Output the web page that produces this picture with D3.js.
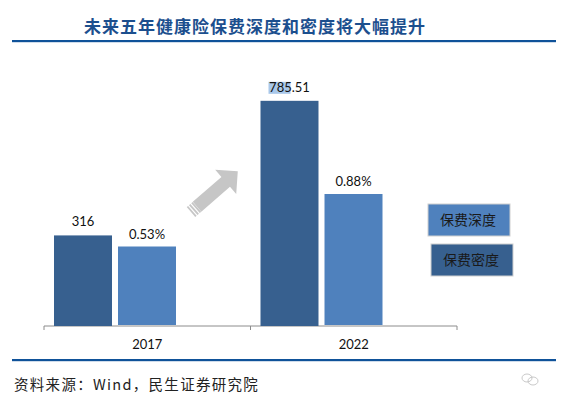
<!DOCTYPE html>
<meta charset="utf-8">
<script src="https://d3js.org/d3.v7.min.js"></script>
<style>
	body { margin: 0; background: #fff; }
	svg { display: block; }
	.cjk { font-family: "Noto Sans CJK SC", sans-serif; }
	.num { font-family: Lato, "Liberation Sans", sans-serif; }
</style>
<body>
	<div id="chart"></div>
</body>
<script>
	// chart data
	const years = ["2017", "2022"];
	const density = [316, 785.51];   // 保费密度 (元/人)
	const depth = [0.53, 0.88];      // 保费深度 (%)
	const legendNames = ["保费深度", "保费密度"];
	const title = "未来五年健康险保费深度和密度将大幅提升";
	const source = "资料来源：Wind，民生证券研究院";

	const width = 562, height = 396;
	const darkBlue = "#37608f", lightBlue = "#4f81bd";

	const svg = d3.select("#chart").append("svg")
		.attr("width", width)
		.attr("height", height);

	// title + rules
	svg.append("text")
		.attr("class", "cjk")
		.attr("x", 255).attr("y", 33)
		.attr("text-anchor", "middle")
		.attr("font-size", 17).attr("font-weight", "bold")
		.attr("letter-spacing", 1)
		.attr("fill", "#1c4f8e")
		.text(title);

	svg.append("rect").attr("x", 12).attr("y", 40).attr("width", 544).attr("height", 2.2).attr("fill", "#0f5299");
	svg.append("rect").attr("x", 12).attr("y", 359).attr("width", 544).attr("height", 2.2).attr("fill", "#0f5299");

	// scales
	const x = d3.scaleBand().domain(years).range([44, 457]);
	const xSub = d3.scaleBand().domain(["density", "depth"]).range([10, 132]).paddingInner(0.094);
	const yDensity = d3.scaleLinear().domain([0, 900]).range([326, 68]);
	const yDepth = d3.scaleLinear().domain([0, 1.6]).range([326, 86]);

	// axis
	const axis = svg.append("g")
		.attr("transform", "translate(0,326)")
		.call(d3.axisBottom(x).tickSize(0).tickFormat(""));
	axis.select(".domain").attr("stroke", "#8c8c8c").attr("d", "M44,4V0H457V4");
	axis.selectAll(".tick").remove();
	svg.append("g").selectAll("line")
		.data(years.slice(0, -1))
		.join("line")
		.attr("x1", d => x(d) + x.bandwidth()).attr("x2", d => x(d) + x.bandwidth())
		.attr("y1", 326).attr("y2", 330)
		.attr("stroke", "#8c8c8c");

	svg.append("g").selectAll("text")
		.data(years)
		.join("text")
		.attr("class", "num")
		.attr("x", d => x(d) + x.bandwidth() / 2)
		.attr("y", 349)
		.attr("text-anchor", "middle")
		.attr("font-size", 13)
		.attr("fill", "#111")
		.text(d => d);

	// bars
	const groups = svg.append("g").selectAll("g")
		.data(years)
		.join("g")
		.attr("transform", d => `translate(${x(d)},0)`);

	groups.append("rect")
		.attr("x", xSub("density"))
		.attr("width", xSub.bandwidth())
		.attr("y", (d, i) => yDensity(density[i]))
		.attr("height", (d, i) => yDensity(0) - yDensity(density[i]))
		.attr("fill", darkBlue);

	groups.append("rect")
		.attr("x", xSub("depth"))
		.attr("width", xSub.bandwidth())
		.attr("y", (d, i) => yDepth(depth[i]))
		.attr("height", (d, i) => yDepth(0) - yDepth(depth[i]) - 1)
		.attr("fill", lightBlue);

	// highlight behind "785" (selection mark in the original)
	groups.filter((d, i) => i === 1).append("rect")
		.attr("x", xSub("density") + 8).attr("y", yDensity(density[1]) - 19)
		.attr("width", 22).attr("height", 12)
		.attr("fill", "#a9c8ea");

	groups.append("text")
		.attr("class", "num")
		.attr("x", xSub("density") + xSub.bandwidth() / 2)
		.attr("y", (d, i) => yDensity(density[i]) - 9)
		.attr("text-anchor", "middle")
		.attr("font-size", 13).attr("fill", "#111")
		.text((d, i) => String(density[i]));

	groups.append("text")
		.attr("class", "num")
		.attr("x", xSub("depth") + xSub.bandwidth() / 2)
		.attr("y", (d, i) => yDepth(depth[i]) - 8)
		.attr("text-anchor", "middle")
		.attr("font-size", 13).attr("fill", "#111")
		.text((d, i) => depth[i].toFixed(2) + "%");

	// gray arrow
	const L = 62, hl = 16, hw = 16, sw = 6.5;
	const arrow = svg.append("g").attr("transform", "translate(191,212) rotate(-41)");
	arrow.append("path")
		.attr("d", `M8,${-sw}H${L - hl}V${-hw}L${L},0L${L - hl},${hw}V${sw}H8Z`)
		.attr("fill", "#c6c6c6");
	[0, 3, 6].forEach(s => {
		arrow.append("rect").attr("x", s).attr("y", -sw).attr("width", 1.8).attr("height", sw * 2).attr("fill", "#c6c6c6");
	});

	// legend boxes
	const legend = svg.append("g").selectAll("g")
		.data(legendNames)
		.join("g")
		.attr("transform", (d, i) => `translate(${428 + i * 3},${204 + i * 40})`);
	legend.append("rect")
		.attr("width", 82).attr("height", 32)
		.attr("fill", (d, i) => i === 0 ? lightBlue : darkBlue)
		.attr("stroke", "#d0d0d0").attr("stroke-width", 1);
	legend.append("text")
		.attr("class", "cjk")
		.attr("x", 40).attr("y", 21)
		.attr("text-anchor", "middle")
		.attr("font-size", 14).attr("fill", "#1a1a1a")
		.text(d => d);

	// source
	svg.append("text")
		.attr("class", "cjk")
		.attr("x", 14).attr("y", 390)
		.attr("font-size", 14.5).attr("fill", "#222")
		.attr("letter-spacing", 1.3)
		.text(source);

	// small watermark icon
	const icon = svg.append("g").attr("transform", "translate(530,379)").attr("fill", "none").attr("stroke", "#bbb").attr("stroke-width", 0.8);
	icon.append("ellipse").attr("cx", -3).attr("cy", -1).attr("rx", 5).attr("ry", 4);
	icon.append("ellipse").attr("cx", 3).attr("cy", 2).attr("rx", 5).attr("ry", 4);
</script>
